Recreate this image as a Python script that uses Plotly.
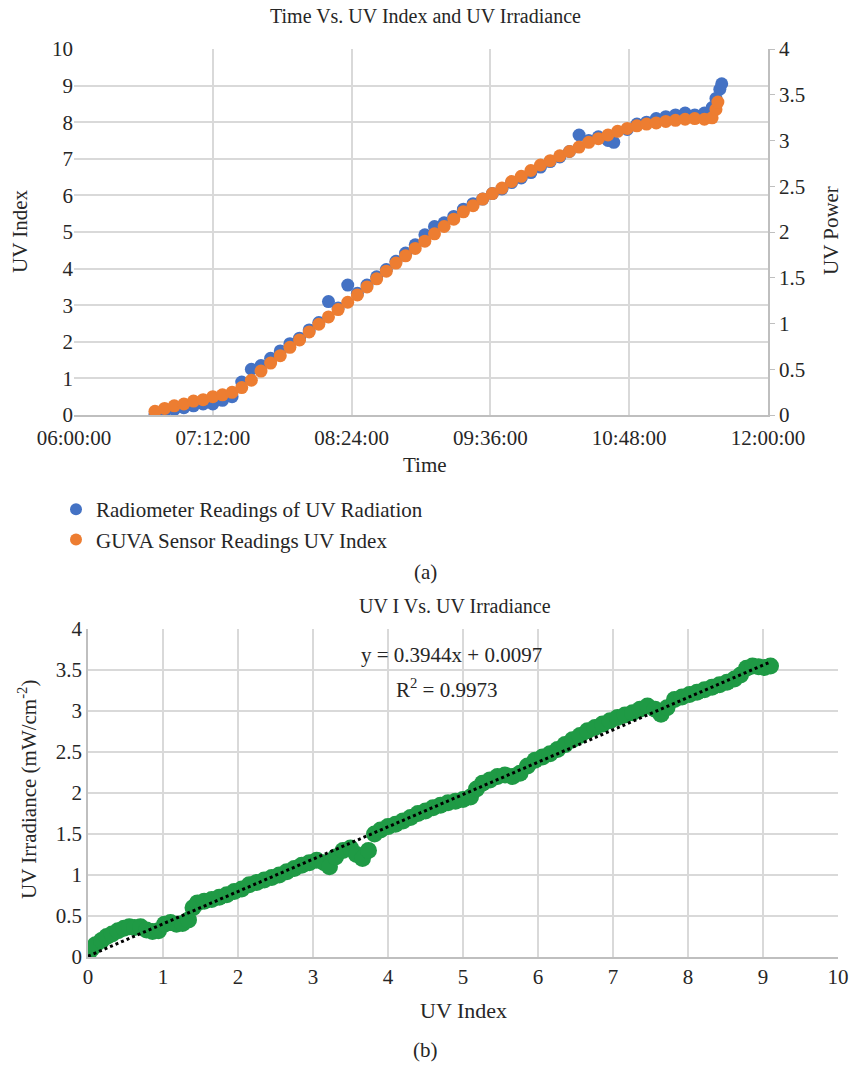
import numpy as np
import plotly.graph_objects as go

# ---------------- data: top chart (time series) ----------------
guva_times = ["06:42", "06:47", "06:52", "06:57", "07:02", "07:07", "07:12", "07:17", "07:22", "07:27",
              "07:32", "07:37", "07:42", "07:47", "07:52", "07:57", "08:02", "08:07", "08:12", "08:17",
              "08:22", "08:27", "08:32", "08:37", "08:42", "08:47", "08:52", "08:57", "09:02", "09:07",
              "09:12", "09:17", "09:22", "09:27", "09:32", "09:37", "09:42", "09:47", "09:52", "09:57",
              "10:02", "10:07", "10:12", "10:17", "10:22", "10:27", "10:32", "10:37", "10:42", "10:47",
              "10:52", "10:57", "11:02", "11:07", "11:12", "11:17", "11:22", "11:27", "11:31", "11:33",
              "11:34"]
guva_uv_index = [0.10, 0.18, 0.25, 0.30, 0.38, 0.42, 0.50, 0.55, 0.62, 0.75,
                 0.95, 1.20, 1.42, 1.62, 1.85, 2.05, 2.27, 2.48, 2.68, 2.88,
                 3.08, 3.28, 3.50, 3.72, 3.93, 4.15, 4.35, 4.55, 4.75, 4.95,
                 5.15, 5.35, 5.55, 5.72, 5.90, 6.05, 6.20, 6.38, 6.52, 6.68,
                 6.83, 6.95, 7.08, 7.20, 7.32, 7.45, 7.55, 7.65, 7.75, 7.83,
                 7.90, 7.95, 7.98, 8.02, 8.05, 8.08, 8.10, 8.08, 8.12, 8.35,
                 8.55]

radio_times = ["06:42", "06:47", "06:52", "06:57", "07:02", "07:07", "07:12", "07:17", "07:22", "07:27",
               "07:32", "07:37", "07:42", "07:47", "07:52", "07:57", "08:02", "08:07", "08:12", "08:17",
               "08:22", "08:27", "08:32", "08:37", "08:42", "08:47", "08:52", "08:57", "09:02", "09:07",
               "09:12", "09:17", "09:22", "09:27", "09:32", "09:37", "09:42", "09:47", "09:52", "09:57",
               "10:02", "10:07", "10:12", "10:17", "10:22", "10:27", "10:32", "10:37", "10:40", "10:47",
               "10:52", "10:57", "11:02", "11:07", "11:12", "11:17", "11:22", "11:27", "11:31", "11:33",
               "11:35", "11:36"]
radio_uv_power = [0.00, 0.04, 0.06, 0.08, 0.10, 0.12, 0.12, 0.16, 0.20, 0.36,
                  0.50, 0.54, 0.62, 0.70, 0.78, 0.84, 0.93, 1.01, 1.24, 1.17,
                  1.42, 1.33, 1.42, 1.51, 1.59, 1.68, 1.77, 1.86, 1.97, 2.06,
                  2.10, 2.17, 2.25, 2.31, 2.36, 2.42, 2.47, 2.54, 2.59, 2.65,
                  2.71, 2.77, 2.82, 2.88, 3.06, 3.00, 3.04, 3.00, 2.98, 3.12,
                  3.18, 3.20, 3.24, 3.26, 3.28, 3.30, 3.28, 3.30, 3.36, 3.46,
                  3.56, 3.62]

# ---------------- data: bottom chart (scatter) ----------------
uv_index = [0.00, 0.05, 0.10, 0.18, 0.25, 0.32, 0.40, 0.48, 0.55, 0.62,
            0.70, 0.78, 0.86, 0.94, 1.02, 1.10, 1.18, 1.26, 1.34, 1.40,
            1.46, 1.55, 1.65, 1.75, 1.85, 1.95, 2.05, 2.15, 2.25, 2.35,
            2.45, 2.55, 2.65, 2.75, 2.85, 2.95, 3.05, 3.15, 3.22, 3.30,
            3.40, 3.50, 3.58, 3.66, 3.74, 3.82, 3.90, 4.00, 4.10, 4.20,
            4.30, 4.40, 4.50, 4.60, 4.70, 4.80, 4.90, 5.00, 5.10, 5.18,
            5.26, 5.36, 5.46, 5.56, 5.66, 5.76, 5.86, 5.96, 6.06, 6.16,
            6.26, 6.36, 6.46, 6.56, 6.66, 6.76, 6.86, 6.96, 7.06, 7.16,
            7.26, 7.36, 7.46, 7.56, 7.64, 7.72, 7.82, 7.92, 8.02, 8.12,
            8.22, 8.32, 8.42, 8.52, 8.62, 8.70, 8.78, 8.86, 8.94, 9.02,
            9.10]
uv_irradiance = [0.03, 0.10, 0.15, 0.20, 0.25, 0.28, 0.32, 0.35, 0.37, 0.36,
                 0.37, 0.33, 0.31, 0.32, 0.40, 0.42, 0.40, 0.41, 0.45, 0.60,
                 0.66, 0.68, 0.70, 0.73, 0.76, 0.80, 0.83, 0.88, 0.91, 0.94,
                 0.97, 1.00, 1.04, 1.08, 1.12, 1.15, 1.18, 1.15, 1.10, 1.22,
                 1.30, 1.33, 1.25, 1.20, 1.30, 1.50, 1.55, 1.59, 1.62, 1.66,
                 1.70, 1.75, 1.78, 1.82, 1.85, 1.88, 1.90, 1.92, 1.95, 2.05,
                 2.12, 2.16, 2.20, 2.22, 2.20, 2.24, 2.33, 2.40, 2.44, 2.48,
                 2.53, 2.59, 2.65, 2.70, 2.76, 2.80, 2.84, 2.88, 2.92, 2.95,
                 2.98, 3.02, 3.06, 3.02, 2.96, 3.04, 3.14, 3.17, 3.20, 3.23,
                 3.26, 3.29, 3.32, 3.35, 3.39, 3.44, 3.52, 3.55, 3.54, 3.53,
                 3.55]
trend_slope = 0.3944
trend_intercept = 0.0097
trend_r2 = 0.9973

x_ticks_time = ["06:00:00", "07:12:00", "08:24:00", "09:36:00", "10:48:00", "12:00:00"]

# ---------------- styling ----------------
FW, FH = 851, 1066
FONT = "Liberation Serif"
TXT = "#262626"
GRID = "#d9d9d9"
AXLINE = "#bfbfbf"
BLUE = "#4472c4"
ORANGE = "#ed7d31"
GREEN = "#1f9a45"

def px(x):
    return x / FW

def py(y):
    return 1 - y / FH

day = "2000-01-01 "
fig = go.Figure()

# empty trace so the base subplot (x, y) exists and carries the left axis
fig.add_trace(go.Scatter(x=[], y=[], xaxis="x", yaxis="y", showlegend=False,
                         hoverinfo="skip", mode="markers"))
fig.add_trace(go.Scatter(
    x=[day + t + ":00" for t in radio_times], y=radio_uv_power,
    mode="markers", name="Radiometer Readings of UV Radiation",
    marker=dict(color=BLUE, size=13, line=dict(width=0)),
    xaxis="x", yaxis="y2"))
fig.add_trace(go.Scatter(
    x=[day + t + ":00" for t in guva_times], y=guva_uv_index,
    mode="markers", name="GUVA Sensor Readings UV Index",
    marker=dict(color=ORANGE, size=13, line=dict(width=0)),
    xaxis="x", yaxis="y3"))

fig.add_trace(go.Scatter(
    x=uv_index, y=uv_irradiance, mode="markers", showlegend=False,
    marker=dict(color=GREEN, size=17, line=dict(width=0)),
    xaxis="x2", yaxis="y4"))
tx = np.array([min(uv_index), max(uv_index)])
fig.add_trace(go.Scatter(
    x=tx, y=trend_slope * tx + trend_intercept, mode="lines", showlegend=False,
    line=dict(color="black", width=3, dash="dot"),
    xaxis="x2", yaxis="y4"))

tick_font = dict(family=FONT, size=21, color=TXT)

tick_vals_time = [day + t for t in x_ticks_time]
fig.update_layout(
    width=FW, height=FH,
    margin=dict(l=0, r=0, t=0, b=0, autoexpand=False),
    paper_bgcolor="white", plot_bgcolor="white",
    font=dict(family=FONT, color=TXT),
    xaxis=dict(domain=[px(74), px(768)], anchor="y", type="date",
               range=[day + "06:00:00", day + "12:00:00"],
               tickvals=tick_vals_time, ticktext=x_ticks_time,
               showgrid=True, gridcolor=GRID, gridwidth=1.5,
               showline=True, linecolor=AXLINE, linewidth=1.5,
               ticks="", tickfont=tick_font, zeroline=False, automargin=False,
               ticklabelstandoff=3),
    yaxis=dict(domain=[py(415), py(49)], anchor="x", range=[0, 10], dtick=1,
               showgrid=True, gridcolor=GRID, gridwidth=1.5,
               showline=False, zeroline=False, ticks="", tickfont=tick_font,
               automargin=False),
    yaxis2=dict(overlaying="y", side="right", anchor="x", range=[0, 4], dtick=0.5,
                showgrid=False, showline=True, linecolor=AXLINE, linewidth=1.5,
                ticks="outside", ticklen=5, tickcolor=AXLINE, zeroline=False,
                tickfont=tick_font, automargin=False),
    yaxis3=dict(overlaying="y", anchor="x", range=[0, 10], visible=False, automargin=False),
    xaxis2=dict(domain=[px(88), px(838)], anchor="y4", range=[0, 10], dtick=1,
                showgrid=True, gridcolor=GRID, gridwidth=1.5,
                showline=True, linecolor=AXLINE, linewidth=2,
                ticks="", zeroline=False, tickfont=tick_font, automargin=False),
    yaxis4=dict(domain=[py(957), py(629)], anchor="x2", range=[0, 4], dtick=0.5,
                showgrid=True, gridcolor=GRID, gridwidth=1.5,
                showline=True, linecolor=AXLINE, linewidth=1.5,
                ticks="", zeroline=False, tickfont=tick_font, automargin=False),
    legend=dict(x=px(56), y=py(489), xanchor="left", yanchor="top",
                font=dict(family=FONT, size=21, color=TXT),
                bgcolor="rgba(0,0,0,0)", tracegroupgap=0, itemwidth=30,
                itemsizing="constant"),
    showlegend=True,
)

def ann(text, x, y, size=21, angle=0):
    fig.add_annotation(text=text, x=px(x), y=py(y), xref="paper", yref="paper",
                       showarrow=False, textangle=angle, xanchor="center", yanchor="middle",
                       font=dict(family=FONT, size=size, color=TXT))

ann("Time Vs. UV Index and UV Irradiance", 425, 16, 20)
ann("UV Index", 20, 231, 21, -90)
ann("UV Power", 831, 231, 21, -90)
ann("Time", 425, 465, 21)
ann("(a)", 425, 572, 21)
ann("UV I Vs. UV Irradiance", 455, 606, 20)
ann("y = %.4fx + %.4f" % (trend_slope, trend_intercept), 451, 655, 21)
ann("R<sup>2</sup> = %.4f" % trend_r2, 447, 688, 21)
ann("UV Irradiance (mW/cm<sup>-2</sup>)", 27, 790, 21, -90)
ann("UV Index", 463, 1010, 22)
ann("(b)", 425, 1050, 21)

fig.write_html("out.html", config={"displayModeBar": False},
               post_script="document.body.style.margin='0';document.body.style.overflow='hidden';")
